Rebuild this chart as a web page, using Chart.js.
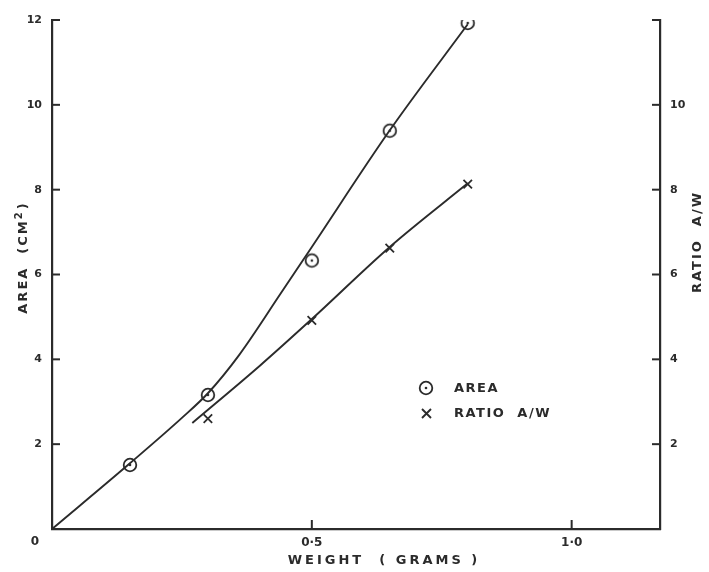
<!DOCTYPE html>
<html>
<head>
<meta charset="utf-8">
<script src="https://cdn.jsdelivr.net/npm/chart.js@4/dist/chart.umd.min.js"></script>
<style>
  html, body { margin: 0; padding: 0; background: #fff; }
  canvas { display: block; }
</style>
</head>
<body>
<canvas id="chart" width="709" height="572"></canvas>
<script>
// measured points (circles = area, crosses = ratio A/W)
const areaWeights = [0.15, 0.3, 0.5, 0.65, 0.8];
const areaValues = [1.51, 3.16, 6.33, 9.39, 11.93];
const ratioWeights = [0.3, 0.5, 0.65, 0.8];
const ratioValues = [2.6, 4.92, 6.62, 8.13];

// hand drawn curves
const areaCurveW = [0, 0.15, 0.25, 0.3, 0.36, 0.44, 0.5, 0.65, 0.8];
const areaCurveV = [0, 1.55, 2.62, 3.2, 4.1, 5.55, 6.65, 9.4, 11.9];
const ratioCurveW = [0.27, 0.4, 0.5, 0.65, 0.8];
const ratioCurveV = [2.5, 3.85, 4.95, 6.65, 8.15];

const xTicks = [0, 0.5, 1.0];
const xTickLabels = ["0", "0·5", "1·0"];
const yTicks = [0, 2, 4, 6, 8, 10, 12];

const INK = "#2b2b2b";
const pts = (xs, ys) => xs.map((x, i) => ({ x: x, y: ys[i] }));

// circle-with-dot marker
const ring = document.createElement("canvas");
ring.width = ring.height = 18;
(function () {
  const c = ring.getContext("2d");
  c.fillStyle = "#fff";
  c.strokeStyle = INK;
  c.lineWidth = 1.8;
  c.beginPath(); c.arc(9, 9, 6.3, 0, Math.PI * 2); c.fill(); c.stroke();
  c.fillStyle = INK;
  c.beginPath(); c.arc(9, 9, 1.3, 0, Math.PI * 2); c.fill();
})();

const tickFont = { family: "DejaVu Sans", weight: "bold", size: 11 };

const paper = {
  id: "paper",
  beforeDraw(chart) {
    const ctx = chart.ctx;
    ctx.save();
    ctx.fillStyle = "#fff";
    ctx.fillRect(0, 0, chart.width, chart.height);
    ctx.restore();
  },
  afterDraw(chart) {
    const { ctx, scales: { x, y, y2 } } = chart;
    ctx.save();
    ctx.strokeStyle = INK;
    ctx.lineWidth = 2;
    // inward tick marks
    yTicks.filter(v => v > 0).forEach(v => {
      const py = y.getPixelForValue(v);
      ctx.beginPath(); ctx.moveTo(x.left, py); ctx.lineTo(x.left + 8, py); ctx.stroke();
      const py2 = y2.getPixelForValue(v);
      ctx.beginPath(); ctx.moveTo(x.right, py2); ctx.lineTo(x.right - 8, py2); ctx.stroke();
    });
    xTicks.filter(v => v > 0).forEach(v => {
      const px = x.getPixelForValue(v);
      ctx.beginPath(); ctx.moveTo(px, y.bottom); ctx.lineTo(px, y.bottom - 9); ctx.stroke();
    });

    ctx.fillStyle = INK;
    ctx.textBaseline = "middle";
    ctx.textAlign = "center";
    ctx.font = "bold 12px 'DejaVu Sans'";
    ctx.fillText("0", x.left - 17, y.bottom + 13);

    // axis titles
    ctx.font = "bold 13px 'DejaVu Sans'";
    ctx.letterSpacing = "3px";
    ctx.fillText("WEIGHT  ( GRAMS )", 384, 561);

    ctx.save();
    ctx.translate(24, 258);
    ctx.rotate(-Math.PI / 2);
    ctx.letterSpacing = "2px";
    const a = "AREA  (CM", b = "2", c = ")";
    const wa = ctx.measureText(a).width;
    ctx.font = "bold 10px 'DejaVu Sans'";
    const wb = ctx.measureText(b).width;
    ctx.font = "bold 13px 'DejaVu Sans'";
    const wc = ctx.measureText(c).width;
    let sx = -(wa + wb + wc) / 2;
    ctx.textAlign = "left";
    ctx.fillText(a, sx, 0);
    ctx.font = "bold 10px 'DejaVu Sans'";
    ctx.fillText(b, sx + wa, -5);
    ctx.font = "bold 13px 'DejaVu Sans'";
    ctx.fillText(c, sx + wa + wb + 1, 0);
    ctx.restore();

    ctx.save();
    ctx.translate(698, 242);
    ctx.rotate(-Math.PI / 2);
    ctx.textAlign = "center";
    ctx.letterSpacing = "2px";
    ctx.fillText("RATIO  A/W", 0, 0);
    ctx.restore();

    // legend
    ctx.drawImage(ring, 426 - 9, 388 - 9);
    ctx.lineWidth = 1.9;
    ctx.beginPath();
    ctx.moveTo(422, 409); ctx.lineTo(431, 418);
    ctx.moveTo(431, 409); ctx.lineTo(422, 418);
    ctx.stroke();
    ctx.textAlign = "left";
    ctx.font = "bold 13px 'DejaVu Sans'";
    ctx.letterSpacing = "1.5px";
    ctx.fillText("AREA", 454, 389);
    ctx.fillText("RATIO  A/W", 454, 414);
    ctx.restore();
  }
};

new Chart(document.getElementById("chart"), {
  type: "scatter",
  data: {
    datasets: [
      {
        label: "area curve",
        data: pts(areaCurveW, areaCurveV),
        showLine: true,
        borderColor: INK,
        borderWidth: 1.9,
        pointRadius: 0,
        cubicInterpolationMode: "monotone",
        yAxisID: "y"
      },
      {
        label: "ratio curve",
        data: pts(ratioCurveW, ratioCurveV),
        showLine: true,
        borderColor: INK,
        borderWidth: 1.9,
        pointRadius: 0,
        cubicInterpolationMode: "monotone",
        yAxisID: "y2"
      },
      {
        label: "AREA",
        data: pts(areaWeights, areaValues),
        pointStyle: ring,
        pointRadius: 9,
        yAxisID: "y"
      },
      {
        label: "RATIO A/W",
        data: pts(ratioWeights, ratioValues),
        pointStyle: "crossRot",
        pointRadius: 6,
        borderColor: INK,
        borderWidth: 1.8,
        yAxisID: "y2"
      }
    ]
  },
  options: {
    responsive: false,
    animation: false,
    layout: { padding: { top: 20 } },
    plugins: {
      legend: { display: false },
      tooltip: { enabled: false }
    },
    scales: {
      x: {
        type: "linear",
        min: 0,
        max: 1.17,
        afterBuildTicks: s => { s.ticks = xTicks.map(v => ({ value: v })); },
        afterFit: s => { s.height = 43; },
        grid: { display: false, drawTicks: false },
        border: { display: true, color: INK, width: 2.2 },
        ticks: {
          padding: 7,
          color: INK,
          font: { family: "DejaVu Sans", weight: "bold", size: 12 },
          callback: v => v === 0 ? "" : xTickLabels[xTicks.indexOf(v)]
        }
      },
      y: {
        position: "left",
        min: 0,
        max: 12,
        afterBuildTicks: s => { s.ticks = yTicks.map(v => ({ value: v })); },
        afterFit: s => { s.width = 52; },
        grid: { display: false, drawTicks: false },
        border: { display: true, color: INK, width: 2.2 },
        ticks: {
          padding: 10,
          color: INK,
          font: tickFont,
          callback: v => v === 0 ? "" : String(v)
        }
      },
      y2: {
        position: "right",
        min: 0,
        max: 12,
        afterBuildTicks: s => { s.ticks = yTicks.map(v => ({ value: v })); },
        afterFit: s => { s.width = 49; },
        grid: { display: false, drawTicks: false },
        border: { display: true, color: INK, width: 2.2 },
        ticks: {
          padding: 10,
          color: INK,
          font: tickFont,
          callback: v => (v === 0 || v === 12) ? "" : String(v)
        }
      }
    }
  },
  plugins: [paper]
});
</script>
</body>
</html>
